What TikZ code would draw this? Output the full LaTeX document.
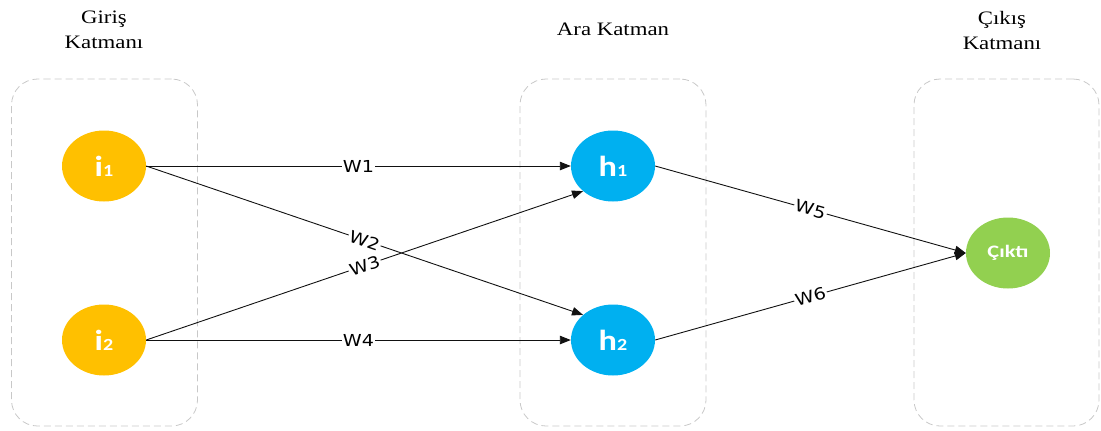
\documentclass[tikz,border=0pt]{standalone}
\usepackage{fontspec}
\usepackage{graphicx}
\setmainfont{Liberation Serif}
\newfontfamily\nodefont{Carlito}
\newfontfamily\wfont{DejaVu Sans}
\usetikzlibrary{shapes.geometric,arrows.meta}

\definecolor{inputcol}{HTML}{FFC000}
\definecolor{hiddencol}{HTML}{00B0F0}
\definecolor{outputcol}{HTML}{92D050}
\definecolor{framecol}{HTML}{C8C8C8}
\definecolor{linecol}{HTML}{111111}

% neuron label: big letter followed by a smaller index on the same baseline
\newcommand\nlabel[2]{\scalebox{1.18}[1]{#1{\fontsize{17bp}{18bp}\selectfont #2}}}
\newcommand\wtext[1]{\scalebox{1.16}[1]{#1}}
\newcommand\ttext[1]{\scalebox{1.2}[1]{#1}}

\tikzset{
  layerbox/.style={draw=framecol, line width=0.8bp, dash pattern=on 7bp off 4bp,
    rounded corners=26bp, minimum width=186bp, minimum height=347bp, inner sep=0pt},
  neuron/.style={ellipse, minimum width=84bp, minimum height=71bp, inner sep=0pt,
    text=white, font=\nodefont\bfseries\fontsize{29bp}{30bp}\selectfont},
  title/.style={align=center, font=\fontsize{19bp}{25bp}\selectfont, inner sep=0pt},
  conn/.style={draw=linecol, line width=0.9bp, -{Triangle[length=11bp,width=8.5bp]}},
  wlabel/.style={fill=white, inner sep=1.2bp, text=black,
    font=\wfont\fontsize{16.5bp}{17bp}\selectfont},
}

\begin{document}
\begin{tikzpicture}[x=1bp, y=-1bp]
\useasboundingbox (0,0) rectangle (1101,430);

% layer frames
\node[layerbox] (inframe)  at (104.5,252.5) {};
\node[layerbox] (hidframe) at (613,252.5) {};
\node[layerbox, minimum width=185bp] (outframe) at (1006.5,252.5) {};

% layer titles
\node[title] (intitle)  at (104,30) {\ttext{Giriş}\\\ttext{Katmanı}};
\node[title] (hidtitle) at (613,29) {\ttext{Ara Katman}};
\node[title] (outtitle) at (1002,30) {\ttext{Çıkış}\\\ttext{Katmanı}};

% neurons
\node[neuron, fill=inputcol]  (i1) at (104,166) {\nlabel{i}{1}};
\node[neuron, fill=inputcol]  (i2) at (104,340) {\nlabel{i}{2}};
\node[neuron, fill=hiddencol] (h1) at (613,166) {\nlabel{h}{1}};
\node[neuron, fill=hiddencol] (h2) at (613,340) {\nlabel{h}{2}};
\node[neuron, fill=outputcol, font=\nodefont\bfseries\fontsize{17.5bp}{18bp}\selectfont]
  (out) at (1008,253) {\scalebox{1.28}[1]{Çıktı}};

% weighted connections
\draw[conn] (i1.east) -- node[wlabel, pos=0.5] {\wtext{W1}} (h1.west);
\draw[conn] (i1.east) -- node[wlabel, pos=0.5, sloped] {\wtext{W2}} (h2.140);
\draw[conn] (i2.east) -- node[wlabel, pos=0.5, sloped] {\wtext{W3}} (h1.220);
\draw[conn] (i2.east) -- node[wlabel, pos=0.5] {\wtext{W4}} (h2.west);
\draw[conn] (h1.east) -- node[wlabel, pos=0.5, sloped] {\wtext{W5}} (out.west);
\draw[conn] (h2.east) -- node[wlabel, pos=0.5, sloped] {\wtext{W6}} (out.west);
\end{tikzpicture}
\end{document}
